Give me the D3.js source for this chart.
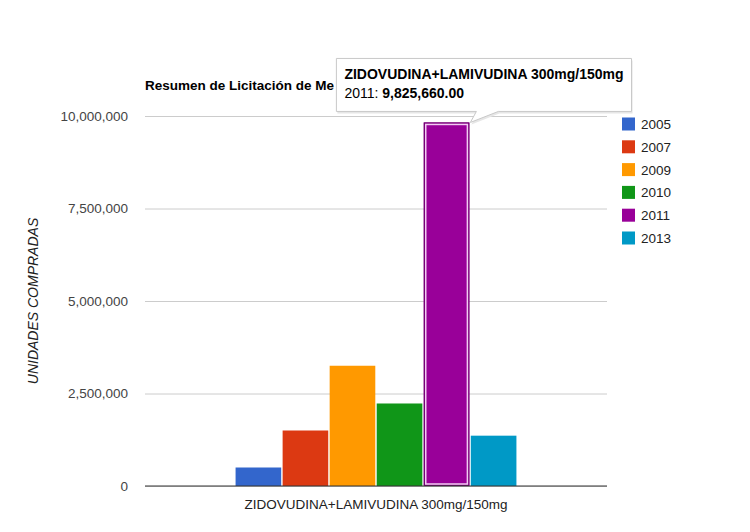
<!DOCTYPE html>
<html>
<head>
<meta charset="utf-8">
<script src="https://cdn.jsdelivr.net/npm/d3@7"></script>
<style>
  body { margin: 0; background: #fff; }
  svg { display: block; font-family: "Liberation Sans", Arial, sans-serif; }
</style>
</head>
<body>
<div id="chart"></div>
<script>
const categories = ["ZIDOVUDINA+LAMIVUDINA 300mg/150mg"];
const years = ["2005", "2007", "2009", "2010", "2011", "2013"];
const unitsBought = [500000, 1500000, 3250000, 2230000, 9825660, 1360000];
const yTicks = [0, 2500000, 5000000, 7500000, 10000000];
const colors = ["#3366cc", "#dc3912", "#ff9900", "#109618", "#990099", "#0099c6"];
const highlighted = "2011";
const titleText = "Resumen de Licitación de Me";

(function drawChart() {
  const config = {
    width: 750,
    height: 532,
    margin: { top: 116, right: 143, bottom: 46, left: 145 },
  };
  const { width, height, margin } = config;

  const rows = years.map((y, i) => ({ year: y, value: unitsBought[i], color: colors[i] }));

  const svg = d3.select("#chart")
    .append("svg")
    .attr("width", width)
    .attr("height", height);

  const x0 = d3.scaleBand()
    .domain(categories)
    .range([margin.left, width - margin.right])
    .paddingInner(0.2)
    .paddingOuter(0.258);

  const x1 = d3.scaleBand()
    .domain(years)
    .range([0, x0.bandwidth()])
    .paddingInner(0.03);

  const yScale = d3.scaleLinear()
    .domain([0, 10000000])
    .range([height - margin.bottom, margin.top]);

  // gridlines + y labels
  const yAxis = svg.append("g")
    .attr("transform", `translate(${margin.left},0)`)
    .call(d3.axisLeft(yScale)
      .tickValues(yTicks)
      .tickSize(-(width - margin.left - margin.right))
      .tickPadding(17)
      .tickFormat(d3.format(",")));
  yAxis.select(".domain").remove();
  yAxis.selectAll(".tick line").attr("stroke", "#cccccc");
  yAxis.selectAll(".tick text")
    .attr("fill", "#444")
    .attr("font-size", "13.5px")
    .attr("font-family", "Liberation Sans, Arial, sans-serif");

  svg.append("text")
    .attr("transform", `translate(38,${(margin.top + height - margin.bottom) / 2}) rotate(-90)`)
    .attr("text-anchor", "middle")
    .attr("font-size", "14px")
    .attr("font-style", "italic")
    .attr("fill", "#222")
    .text("UNIDADES COMPRADAS");

  // bars
  const group = svg.selectAll(".group")
    .data(categories)
    .join("g")
    .attr("class", "group")
    .attr("transform", (d) => `translate(${x0(d)},0)`);

  group.selectAll("rect")
    .data(rows)
    .join("rect")
    .attr("x", (d) => x1(d.year))
    .attr("y", (d) => yScale(d.value))
    .attr("width", x1.bandwidth())
    .attr("height", (d) => yScale(0) - yScale(d.value))
    .attr("fill", (d) => d.color);

  // hover highlight on the 2011 bar
  const hi = rows.find((d) => d.year === highlighted);
  const hx = x0(categories[0]) + x1(hi.year);
  const hy = yScale(hi.value);
  const hw = x1.bandwidth();
  const hh = yScale(0) - hy;
  svg.append("rect")
    .attr("x", hx + 0.5).attr("y", hy + 0.5)
    .attr("width", hw - 1).attr("height", hh - 1)
    .attr("fill", "none").attr("stroke", "#6b006b").attr("stroke-width", 1);
  svg.append("rect")
    .attr("x", hx + 2).attr("y", hy + 2)
    .attr("width", hw - 4).attr("height", hh - 4)
    .attr("fill", "none").attr("stroke", "#f2ccf2").attr("stroke-width", 1.5);

  // baseline
  svg.append("line")
    .attr("x1", margin.left).attr("x2", width - margin.right)
    .attr("y1", yScale(0)).attr("y2", yScale(0))
    .attr("stroke", "#333").attr("stroke-width", 1);

  // category label
  svg.selectAll(".cat-label")
    .data(categories)
    .join("text")
    .attr("class", "cat-label")
    .attr("x", (d) => x0(d) + x0.bandwidth() / 2)
    .attr("y", yScale(0) + 23)
    .attr("text-anchor", "middle")
    .attr("font-size", "13.5px")
    .attr("fill", "#222")
    .text((d) => d);

  // legend
  const legendY = d3.scalePoint()
    .domain(years)
    .range([124, 238]);
  const legend = svg.append("g")
    .selectAll("g")
    .data(rows)
    .join("g")
    .attr("transform", (d) => `translate(622,${legendY(d.year)})`);
  legend.append("rect")
    .attr("x", 0).attr("y", -6.5)
    .attr("width", 13).attr("height", 13)
    .attr("fill", (d) => d.color);
  legend.append("text")
    .attr("x", 19).attr("y", 5)
    .attr("font-size", "13.5px")
    .attr("fill", "#222")
    .text((d) => d.year);

  // tooltip geometry
  const apexX = hx + hw + 1;
  const apexY = hy;
  const boxL = apexX - 134;
  const boxT = apexY - 64;
  const boxB = apexY - 11;

  // title (covered by the tooltip on the right)
  svg.append("clipPath")
    .attr("id", "title-clip")
    .append("rect")
    .attr("x", 0).attr("y", 0)
    .attr("width", boxL).attr("height", height);
  svg.append("text")
    .attr("clip-path", "url(#title-clip)")
    .attr("x", margin.left)
    .attr("y", 90)
    .attr("font-size", "13.5px")
    .attr("font-weight", "bold")
    .attr("fill", "#000")
    .text(titleText);

  const tip = svg.append("g");
  const line1 = tip.append("text")
    .attr("x", boxL + 8).attr("y", boxT + 21)
    .attr("font-size", "14px").attr("font-weight", "bold")
    .attr("fill", "#000")
    .text(categories[0]);
  const line2 = tip.append("text")
    .attr("x", boxL + 8).attr("y", boxT + 40)
    .attr("font-size", "14px").attr("fill", "#000");
  line2.append("tspan").text(`${hi.year}: `);
  line2.append("tspan").attr("font-weight", "bold").text(d3.format(",.2f")(hi.value));

  const boxR = boxL + line1.node().getComputedTextLength() + 16;
  const tailL = apexX + 6;
  const tailR = apexX + 28;
  const tipPath = `M${boxL},${boxT} H${boxR} V${boxB} H${tailR} L${apexX},${apexY} L${tailL},${boxB} H${boxL} Z`;

  tip.insert("path", "text")
    .attr("d", tipPath)
    .attr("transform", "translate(1,2)")
    .attr("fill", "#e6e6e6");
  tip.insert("path", "text")
    .attr("d", tipPath)
    .attr("fill", "#fff")
    .attr("stroke", "#c8c8c8");
})();
</script>
</body>
</html>
